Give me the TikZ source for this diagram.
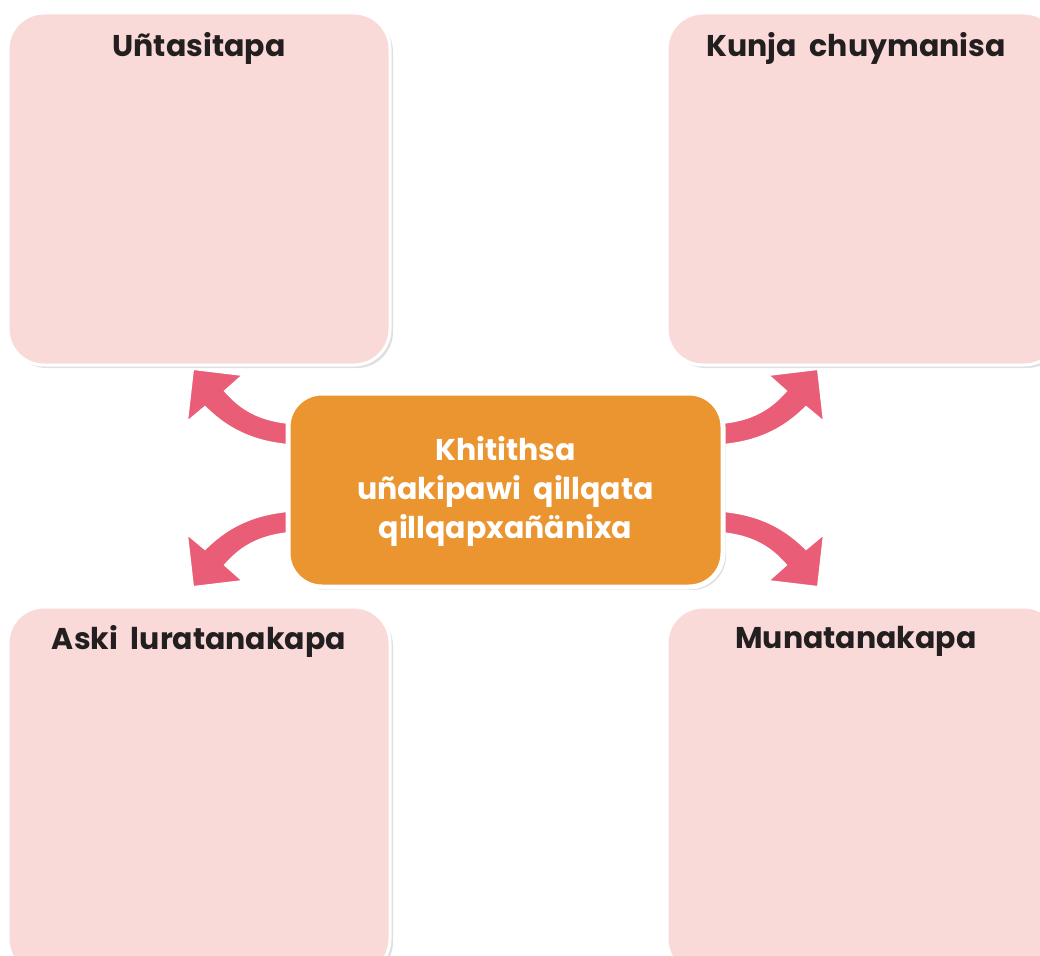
\documentclass[tikz,border=0pt]{standalone}
\usepackage{fontspec}
\setmainfont{Poppins}
\usetikzlibrary{shadows}
\definecolor{boxpink}{HTML}{F9DAD9}
\definecolor{boxorange}{HTML}{EB9530}
\definecolor{arrowpink}{HTML}{E95E76}
\definecolor{titleblack}{HTML}{231F20}
\newcommand{\curvedarrowshape}{%
  \filldraw[arrowshape] (225,391) -- (243,375) -- (193,369) -- (187,422) -- (205,407)
    .. controls (230,432) and (260,446) .. (310,446) -- (310,424)
    .. controls (262,424) and (242,410) .. (225,391) -- cycle;}
\begin{document}
\begin{tikzpicture}[x=1pt,y=-1pt,
  pinkbox/.style={draw=white, line width=3pt, fill=boxpink, rounded corners=36pt,
    drop shadow={opacity=0.25, shadow xshift=3pt, shadow yshift=-3pt}},
  centerbox/.style={draw=white, line width=5pt, fill=boxorange, rounded corners=34pt,
    drop shadow={opacity=0.25, shadow xshift=3pt, shadow yshift=-3pt}},
  arrowshape/.style={fill=arrowpink, draw=white, line width=2pt, line join=miter},
  titletext/.style={text=titleblack, font=\fontsize{30}{36}\selectfont\bfseries},
  centertext/.style={text=white, align=center, font=\fontsize{30}{39}\selectfont\bfseries}]
\useasboundingbox (0,0) rectangle (1040,955);
\clip (0,0) rectangle (1040,955);
\fill[white] (0,0) rectangle (1040,955);
% boxes
\node[pinkbox, minimum width=382pt, minimum height=352pt, inner sep=0pt] (b1) at (199,189) {};
\node[pinkbox, minimum width=393pt, minimum height=352pt, inner sep=0pt] (b2) at (863.5,189) {};
\node[pinkbox, minimum width=382pt, minimum height=368pt, inner sep=0pt] (b3) at (199,791) {};
\node[pinkbox, minimum width=393pt, minimum height=368pt, inner sep=0pt] (b4) at (863.5,791) {};
\node[titletext] (t1) at (199,48) {Uñtasitapa};
\node[titletext] (t2) at (856,48) {Kunja\ \ chuymanisa};
\node[titletext] (t3) at (199,641) {Aski\ \ luratanakapa};
\node[titletext] (t4) at (856,641) {Munatanakapa};
% arrows
\curvedarrowshape
\begin{scope}[shift={(1011,0)}, xscale=-1]\curvedarrowshape\end{scope}
\begin{scope}[shift={(0,956)}, yscale=-1]\curvedarrowshape\end{scope}
\begin{scope}[shift={(1011,956)}, xscale=-1, yscale=-1]\curvedarrowshape\end{scope}
% center
\node[centerbox, minimum width=435pt, minimum height=194pt, inner sep=0pt] (c) at (505.5,490) {};
\node[centertext] (ct) at (505.5,491) {Khitithsa\\uñakipawi\ \ qillqata\\qillqapxañänixa};
\end{tikzpicture}
\end{document}
